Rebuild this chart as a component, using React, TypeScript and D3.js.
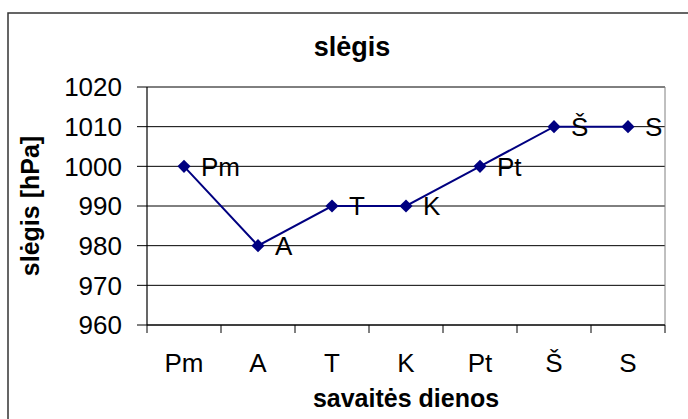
import React from "react";
import * as d3 from "d3";

const categories = ["Pm", "A", "T", "K", "Pt", "Š", "S"];
const pressure = [1000, 980, 990, 990, 1000, 1010, 1010];
const yTicks = [960, 970, 980, 990, 1000, 1010, 1020];

const W = 688;
const H = 419;
const plot = { left: 147, right: 665, top: 87, bottom: 325 };
const font = "'Liberation Sans', Arial, sans-serif";
const navy = "#000080";

const App = () => {
  const x = d3.scaleBand().domain(categories).range([plot.left, plot.right]).padding(0);
  const y = d3.scaleLinear().domain([960, 1020]).range([plot.bottom, plot.top]);
  const cx = (c: string) => (x(c) as number) + x.bandwidth() / 2;

  const line = d3
    .line<number>()
    .x((_, i) => cx(categories[i]))
    .y((d) => y(d));

  const diamond = d3.symbol().type(d3.symbolDiamond2).size(110)();
  const bandEdges = categories.map((c) => x(c) as number).concat([plot.right]);

  return (
    <svg
      width={W}
      height={H}
      style={{ position: "absolute", left: 0, top: 0, background: "#fff" }}
      fontFamily={font}
    >
      <rect x={8} y={13} width={688} height={420} fill="#fff" stroke="#333" strokeWidth={1.5} />

      <text x={352} y={56} textAnchor="middle" fontSize={27} fontWeight="bold">
        slėgis
      </text>

      {/* grid */}
      {yTicks.map((t) => (
        <line key={"g" + t} x1={plot.left} x2={plot.right} y1={y(t)} y2={y(t)} stroke="#000" strokeWidth={1} />
      ))}
      <line x1={plot.right} x2={plot.right} y1={plot.top} y2={plot.bottom} stroke="#808080" strokeWidth={1} />

      {/* y axis */}
      <line x1={plot.left} x2={plot.left} y1={plot.top} y2={plot.bottom} stroke="#000" strokeWidth={1.2} />
      {yTicks.map((t) => (
        <g key={"y" + t}>
          <line x1={plot.left - 10} x2={plot.left} y1={y(t)} y2={y(t)} stroke="#000" strokeWidth={1} />
          <text x={122} y={y(t)} dy="0.36em" textAnchor="end" fontSize={26}>
            {t}
          </text>
        </g>
      ))}

      {/* x axis */}
      <line x1={plot.left} x2={plot.right} y1={plot.bottom} y2={plot.bottom} stroke="#000" strokeWidth={1.2} />
      {bandEdges.map((e, i) => (
        <line key={"xt" + i} x1={e} x2={e} y1={plot.bottom} y2={plot.bottom + 8} stroke="#000" strokeWidth={1} />
      ))}
      {categories.map((c) => (
        <text key={"xl" + c} x={cx(c)} y={372} textAnchor="middle" fontSize={26}>
          {c}
        </text>
      ))}

      <text x={(plot.left + plot.right) / 2} y={407} textAnchor="middle" fontSize={25} fontWeight="bold">
        savaitės dienos
      </text>
      <text
        transform={`translate(39, ${(plot.top + plot.bottom) / 2}) rotate(-90)`}
        textAnchor="middle"
        fontSize={25}
        fontWeight="bold"
      >
        slėgis [hPa]
      </text>

      {/* series */}
      <path d={line(pressure) || ""} fill="none" stroke={navy} strokeWidth={2} />
      {pressure.map((v, i) => (
        <path key={"m" + i} d={diamond || ""} transform={`translate(${cx(categories[i])},${y(v)})`} fill={navy} />
      ))}
      {pressure.map((v, i) => (
        <text key={"dl" + i} x={cx(categories[i]) + 17} y={y(v)} dy="0.36em" fontSize={26}>
          {categories[i]}
        </text>
      ))}
    </svg>
  );
};

export default App;
